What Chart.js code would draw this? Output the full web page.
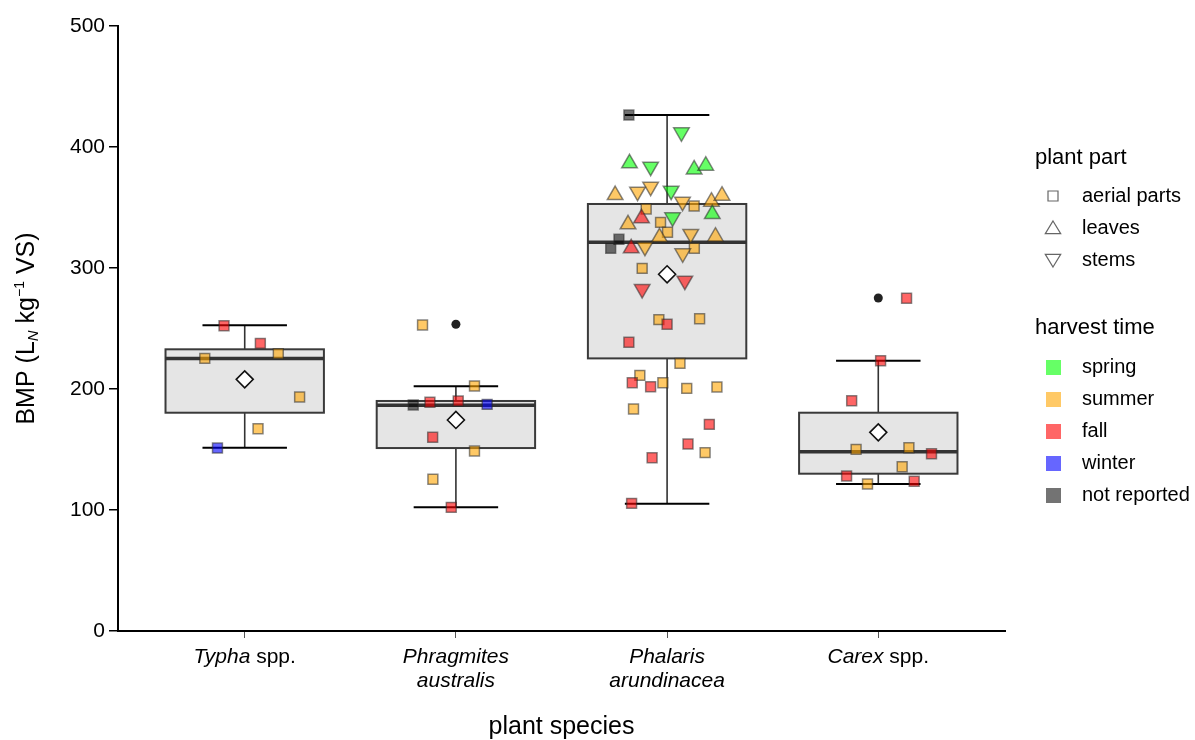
<!DOCTYPE html>
<html>
<head>
<meta charset="utf-8">
<script src="https://cdn.jsdelivr.net/npm/chart.js@4.4.1/dist/chart.umd.min.js"></script>
<style>
  html, body { margin: 0; padding: 0; background: #fff; }
</style>
</head>
<body>
<canvas id="bmpChart" width="1195" height="740"></canvas>
<script>
// categories on the x axis, each label split in lines of [text, italic] pieces
var categories = ['Typha spp.', 'Phragmites australis', 'Phalaris arundinacea', 'Carex spp.'];
var tickLabels = [
    [[['Typha', true], [' spp.', false]]],
    [[['Phragmites', true]], [['australis', true]]],
    [[['Phalaris', true]], [['arundinacea', true]]],
    [[['Carex', true], [' spp.', false]]]
];
var yTicks = [0, 100, 200, 300, 400, 500];

// box plot statistics (BMP, L_N kg-1 VS)
var whiskerLow  = [151.5, 102.2, 105.2, 121.5];
var q1          = [180.4, 151.2, 225.3, 130.0];
var median      = [225.3, 186.5, 321.3, 148.2];
var q3          = [232.8, 190.1, 352.9, 180.4];
var whiskerHigh = [252.6, 202.2, 426.4, 223.4];
var mean        = [208.0, 174.4, 294.8, 164.2];
var outlierGroup = [2, 4];
var outlierBMP   = [253.5, 275.2];

// single observations: value, horizontal jitter, harvest time, plant part
// harvest: sp spring, su summer, fa fall, wi winter, nr not reported
// part: a aerial parts, l leaves, s stems
var typhaBMP     = [252.3, 237.7, 229.2, 225.3, 193.4, 167.2, 151.2];
var typhaJitter  = [-0.098, 0.074, 0.159, -0.189, 0.26, 0.063, -0.129];
var typhaHarvest = ['fa', 'fa', 'su', 'su', 'su', 'su', 'wi'];
var typhaPart    = ['a', 'a', 'a', 'a', 'a', 'a', 'a'];

var phragBMP     = [252.9, 202.5, 186.8, 189.0, 190.1, 187.3, 160.1, 148.8, 125.4, 102.2];
var phragJitter  = [-0.158, 0.088, -0.202, -0.123, 0.011, 0.148, -0.11, 0.088, -0.109, -0.022];
var phragHarvest = ['su', 'su', 'nr', 'fa', 'fa', 'wi', 'fa', 'su', 'su', 'fa'];
var phragPart    = ['a', 'a', 'a', 'a', 'a', 'a', 'a', 'a', 'a', 'a'];

var phalBMP = [426.4, 412.1, 386.5, 383.7, 381.5, 384.6, 360.3, 363.1, 367.2, 363.9,
               354.8, 351.2, 354.8, 359.8, 348.8, 341.1, 344.6, 341.9, 336.1, 337.7,
               329.5, 328.1, 325.9, 325.4, 323.7, 316.3, 316.3, 317.6, 316.3, 312.1,
               299.7, 289.5, 282.6, 257.3, 253.5, 258.1, 238.6, 221.2, 211.3, 205.2,
               201.9, 205.2, 200.5, 201.7, 183.5, 170.8, 154.5, 147.4, 143.2, 105.5];
var phalJitter = [-0.181, 0.068, -0.178, -0.078, 0.128, 0.183, -0.246, -0.14, -0.078, 0.019,
                  0.073, 0.128, 0.21, 0.26, -0.099, -0.121, 0.214, 0.026, -0.185, -0.031,
                  0.002, 0.112, 0.229, -0.036, -0.228, -0.267, -0.17, -0.105, 0.129, 0.074,
                  -0.118, 0.084, -0.118, -0.039, 0.0, 0.154, -0.181, 0.061, -0.129, -0.165,
                  -0.078, -0.02, 0.093, 0.236, -0.159, 0.2, 0.099, 0.18, -0.071, -0.168];
var phalHarvest = ['nr', 'sp', 'sp', 'sp', 'sp', 'sp', 'su', 'su', 'su', 'sp',
                   'su', 'su', 'su', 'su', 'su', 'fa', 'sp', 'sp', 'su', 'su',
                   'su', 'su', 'su', 'su', 'nr', 'nr', 'fa', 'su', 'su', 'su',
                   'su', 'fa', 'fa', 'su', 'fa', 'su', 'fa', 'su', 'su', 'fa',
                   'fa', 'su', 'su', 'su', 'su', 'fa', 'fa', 'su', 'fa', 'fa'];
var phalPart = ['a', 's', 'l', 's', 'l', 'l', 'l', 's', 's', 's',
                's', 'a', 'l', 'l', 'a', 'l', 'l', 's', 'l', 'a',
                'a', 's', 'l', 'l', 'a', 'a', 'l', 's', 'a', 's',
                'a', 's', 's', 'a', 'a', 'a', 'a', 'a', 'a', 'a',
                'a', 'a', 'a', 'a', 'a', 'a', 'a', 'a', 'a', 'a'];

var carexBMP     = [275.0, 223.4, 190.3, 150.1, 151.5, 146.5, 135.8, 128.1, 121.5, 123.7];
var carexJitter  = [0.134, 0.011, -0.126, -0.105, 0.145, 0.252, 0.113, -0.15, -0.051, 0.17];
var carexHarvest = ['fa', 'fa', 'fa', 'su', 'su', 'fa', 'su', 'fa', 'su', 'fa'];
var carexPart    = ['a', 'a', 'a', 'a', 'a', 'a', 'a', 'a', 'a', 'a'];

// legend entries
var partCodes = ['a', 'l', 's'];
var partNames = ['aerial parts', 'leaves', 'stems'];
var harvestCodes = ['sp', 'su', 'fa', 'wi', 'nr'];
var harvestNames = ['spring', 'summer', 'fall', 'winter', 'not reported'];

var harvestColor = {
    sp: 'rgba(0,255,0,0.6)',
    su: 'rgba(255,165,0,0.6)',
    fa: 'rgba(255,0,0,0.6)',
    wi: 'rgba(0,0,255,0.6)',
    nr: 'rgba(0,0,0,0.55)'
};
var fontFamily = "'Liberation Sans', Arial, sans-serif";

function buildPoints(group, values, jitter, harvest, part) {
    return values.map(function(v, i) {
        return { x: group + jitter[i], y: v, harvest: harvest[i], part: part[i] };
    });
}

var observations = [].concat(
    buildPoints(1, typhaBMP, typhaJitter, typhaHarvest, typhaPart),
    buildPoints(2, phragBMP, phragJitter, phragHarvest, phragPart),
    buildPoints(3, phalBMP, phalJitter, phalHarvest, phalPart),
    buildPoints(4, carexBMP, carexJitter, carexHarvest, carexPart)
);

function setFont(ctx, size, italic) {
    ctx.font = (italic ? 'italic ' : '') + size + 'px ' + fontFamily;
}

// draws pieces {t, size, italic, dy} centred on x along the current baseline
function drawPieces(ctx, pieces, x, y) {
    var total = 0;
    pieces.forEach(function(p) { setFont(ctx, p.size, p.italic); p.w = ctx.measureText(p.t).width; total += p.w; });
    var cx = x - total / 2;
    ctx.textAlign = 'left';
    pieces.forEach(function(p) {
        setFont(ctx, p.size, p.italic);
        ctx.fillText(p.t, cx, y + (p.dy || 0));
        cx += p.w;
    });
}

function shapePath(ctx, part, x, y, r) {
    ctx.beginPath();
    if (part === 'a') {
        ctx.rect(x - r, y - r, 2 * r, 2 * r);
    } else if (part === 'l') {
        ctx.moveTo(x, y - r);
        ctx.lineTo(x + r * 1.1, y + r * 0.8);
        ctx.lineTo(x - r * 1.1, y + r * 0.8);
        ctx.closePath();
    } else {
        ctx.moveTo(x, y + r);
        ctx.lineTo(x + r * 1.1, y - r * 0.8);
        ctx.lineTo(x - r * 1.1, y - r * 0.8);
        ctx.closePath();
    }
}

var boxPlugin = {
    id: 'boxes',
    beforeDatasetsDraw: function(chart) {
        var ctx = chart.ctx, xs = chart.scales.x, ys = chart.scales.y;
        ctx.save();
        categories.forEach(function(c, i) {
            var xc = xs.getPixelForValue(i + 1);
            var half = xs.getPixelForValue(i + 1.375) - xc;
            var cap = xs.getPixelForValue(i + 1.2) - xc;
            var yLo = ys.getPixelForValue(whiskerLow[i]), yQ1 = ys.getPixelForValue(q1[i]);
            var yMed = ys.getPixelForValue(median[i]), yQ3 = ys.getPixelForValue(q3[i]);
            var yHi = ys.getPixelForValue(whiskerHigh[i]);
            // whiskers
            ctx.strokeStyle = '#333';
            ctx.lineWidth = 1.6;
            ctx.beginPath();
            ctx.moveTo(xc, yHi); ctx.lineTo(xc, yQ3);
            ctx.moveTo(xc, yQ1); ctx.lineTo(xc, yLo);
            ctx.stroke();
            ctx.strokeStyle = '#000';
            ctx.lineWidth = 2;
            ctx.beginPath();
            ctx.moveTo(xc - cap, yHi); ctx.lineTo(xc + cap, yHi);
            ctx.moveTo(xc - cap, yLo); ctx.lineTo(xc + cap, yLo);
            ctx.stroke();
            // box
            ctx.fillStyle = '#e5e5e5';
            ctx.fillRect(xc - half, yQ3, 2 * half, yQ1 - yQ3);
            ctx.strokeStyle = '#3a3a3a';
            ctx.lineWidth = 2;
            ctx.strokeRect(xc - half, yQ3, 2 * half, yQ1 - yQ3);
            // median
            ctx.lineWidth = 3.5;
            ctx.strokeStyle = '#333';
            ctx.beginPath();
            ctx.moveTo(xc - half, yMed); ctx.lineTo(xc + half, yMed);
            ctx.stroke();
        });
        ctx.restore();
    },
    afterDraw: function(chart) {
        var ctx = chart.ctx, xs = chart.scales.x, area = chart.chartArea;
        ctx.save();
        ctx.fillStyle = '#000';
        ctx.textBaseline = 'middle';
        // category labels
        tickLabels.forEach(function(lines, i) {
            var xc = xs.getPixelForValue(i + 1);
            lines.forEach(function(line, j) {
                drawPieces(ctx, line.map(function(p) { return { t: p[0], size: 21, italic: p[1] }; }),
                    xc, area.bottom + 26 + j * 24);
            });
        });
        // x title
        drawPieces(ctx, [{ t: 'plant species', size: 25 }], (area.left + area.right) / 2, area.bottom + 96);
        // y title
        ctx.save();
        ctx.translate(25, (area.top + area.bottom) / 2);
        ctx.rotate(-Math.PI / 2);
        ctx.textBaseline = 'alphabetic';
        drawPieces(ctx, [
            { t: 'BMP (L', size: 25 },
            { t: 'N', size: 15, italic: true, dy: 4 },
            { t: ' kg', size: 25 },
            { t: '\u22121', size: 14, dy: -10 },
            { t: ' VS)', size: 25 }
        ], 0, 9);
        ctx.restore();
        // legend
        var lx = area.right + 30;
        ctx.textAlign = 'left';
        setFont(ctx, 22);
        ctx.fillText('plant part', lx, 158);
        setFont(ctx, 20);
        partCodes.forEach(function(code, k) {
            var y = 196 + k * 32;
            ctx.strokeStyle = '#666';
            ctx.lineWidth = 1.2;
            shapePath(ctx, code, lx + 18, y, code === 'a' ? 5 : 7);
            ctx.stroke();
            ctx.fillText(partNames[k], lx + 47, y);
        });
        setFont(ctx, 22);
        ctx.fillText('harvest time', lx, 328);
        setFont(ctx, 20);
        harvestCodes.forEach(function(code, k) {
            var y = 367 + k * 32;
            ctx.fillStyle = harvestColor[code];
            ctx.fillRect(lx + 11, y - 7, 15, 15);
            ctx.fillStyle = '#000';
            ctx.fillText(harvestNames[k], lx + 47, y);
        });
        ctx.restore();
    }
};

var bmpChart = new Chart(document.getElementById('bmpChart'), {
    type: 'scatter',
    data: {
        datasets: [
            {
                label: 'mean',
                order: 0,
                data: mean.map(function(m, i) { return { x: i + 1, y: m }; }),
                pointStyle: 'rectRot',
                pointRadius: 8.5,
                pointBackgroundColor: '#fff',
                pointBorderColor: '#111',
                pointBorderWidth: 1.6
            },
            {
                label: 'outliers',
                order: 1,
                data: outlierGroup.map(function(g, i) { return { x: g, y: outlierBMP[i] }; }),
                pointStyle: 'circle',
                pointRadius: 4.5,
                pointBackgroundColor: '#222',
                pointBorderColor: '#222',
                pointBorderWidth: 0
            },
            {
                label: 'observations',
                order: 2,
                data: observations,
                pointStyle: function(c) { return c.raw && c.raw.part !== 'a' ? 'triangle' : 'rect'; },
                pointRotation: function(c) { return c.raw && c.raw.part === 's' ? 180 : 0; },
                pointRadius: function(c) { return c.raw && c.raw.part !== 'a' ? 9 : 7; },
                pointBackgroundColor: function(c) { return c.raw ? harvestColor[c.raw.harvest] : '#ccc'; },
                pointBorderColor: 'rgba(40,40,40,0.55)',
                pointBorderWidth: 1.5
            }
        ]
    },
    options: {
        responsive: false,
        animation: false,
        layout: { padding: { top: 26, right: 190, left: 0, bottom: 0 } },
        plugins: {
            legend: { display: false },
            tooltip: { enabled: false }
        },
        scales: {
            x: {
                type: 'linear',
                min: 0.4,
                max: 4.6,
                afterBuildTicks: function(scale) {
                    scale.ticks = categories.map(function(c, i) { return { value: i + 1 }; });
                },
                afterFit: function(scale) { scale.height = 109; },
                ticks: { display: false },
                grid: { drawOnChartArea: false, tickLength: 7, color: '#555', lineWidth: 1 },
                border: { color: '#000', width: 2 }
            },
            y: {
                min: 0,
                max: 500,
                afterBuildTicks: function(scale) {
                    scale.ticks = yTicks.map(function(v) { return { value: v }; });
                },
                afterFit: function(scale) { scale.width = 118; },
                ticks: {
                    color: '#000',
                    padding: 4,
                    font: { family: fontFamily, size: 21 }
                },
                grid: { drawOnChartArea: false, tickLength: 9, color: '#000', lineWidth: 1.5 },
                border: { color: '#000', width: 2 }
            }
        }
    },
    plugins: [boxPlugin]
});
</script>
</body>
</html>
